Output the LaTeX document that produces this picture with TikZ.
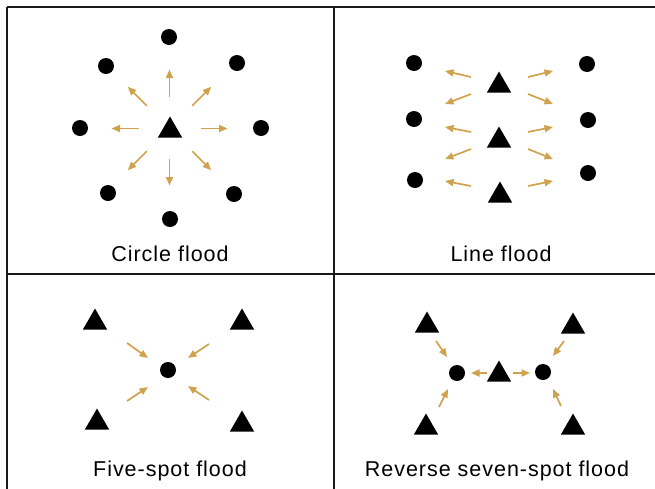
\documentclass[tikz,border=0pt]{standalone}
\usepackage{fontspec}
\setmainfont{Liberation Sans}
\newfontfamily\captionface[LetterSpace=4.5]{Liberation Sans}
\usetikzlibrary{arrows.meta,shapes.geometric}
\definecolor{flowgold}{HTML}{D0A24E}
\begin{document}
\begin{tikzpicture}[x=1pt,y=-1pt,
  frame/.style={line width=2pt,black!90},
  producer/.style={circle,fill=black,minimum size=16pt,inner sep=0pt},
  injector/.style={regular polygon,regular polygon sides=3,fill=black,minimum size=28pt,inner sep=0pt},
  flow/.style={flowgold,line width=1.7pt,-{Triangle[length=8.5pt,width=7pt]}},
  caption/.style={font=\captionface\fontsize{21.5}{26}\selectfont,anchor=base}]
\useasboundingbox (0,0) rectangle (655,488);

% panel frame
\draw[frame] (7,7) -- (656,7);
\draw[frame] (7,7) -- (7,489);
\draw[frame] (334,7) -- (334,489);
\draw[frame] (7,274) -- (656,274);

% ---- circle flood ----
\node[injector] (ci) at (170,130.5) {};
\node[producer] (cp1) at (169,37) {};
\node[producer] (cp2) at (106,66) {};
\node[producer] (cp3) at (237,63) {};
\node[producer] (cp4) at (80,128) {};
\node[producer] (cp5) at (261,128) {};
\node[producer] (cp6) at (108,193) {};
\node[producer] (cp7) at (234,194) {};
\node[producer] (cp8) at (170,219) {};
\coordinate (cc) at (169.5,128.5);
\foreach \a/\r in {0/31,45/32,90/30,135/32,180/31,225/32,270/32,315/32}
  \draw[flow] (cc) ++(\a:\r) -- ++(\a:27);
\node[caption] (ccap) at (170,261) {Circle flood};

% ---- line flood ----
\node[injector] (li1) at (499,85.5) {};
\node[injector] (li2) at (499,140.5) {};
\node[injector] (li3) at (500,195.5) {};
\node[producer] (lp1) at (414,63) {};
\node[producer] (lp2) at (414,119) {};
\node[producer] (lp3) at (415,180) {};
\node[producer] (lr1) at (587,64) {};
\node[producer] (lr2) at (588,120) {};
\node[producer] (lr3) at (588,173) {};
\foreach \ya/\yb in {77/71,94/104,132/127,149/159,186/181}{
  \draw[flow] (471,\ya) -- (445,\yb);
  \draw[flow] (528,\ya) -- (553,\yb);
}
\node[caption] (lcap) at (501,261) {Line flood};

% ---- five-spot flood ----
\node[injector] (fi1) at (95,322.5) {};
\node[injector] (fi2) at (242,322.5) {};
\node[injector] (fi3) at (97,422.5) {};
\node[injector] (fi4) at (242,424.5) {};
\node[producer] (fp) at (168,370) {};
\draw[flow] (127,343) -- (148,358);
\draw[flow] (209,344) -- (188,358);
\draw[flow] (127,401) -- (148,387);
\draw[flow] (209,400) -- (188,386);
\node[caption] (fcap) at (170,476) {Five-spot flood};

% ---- reverse seven-spot flood ----
\node[injector] (ri1) at (427,325.5) {};
\node[injector] (ri2) at (573,326.5) {};
\node[injector] (ri3) at (499,374.5) {};
\node[injector] (ri4) at (426,427.5) {};
\node[injector] (ri5) at (573,427.5) {};
\node[producer] (rp1) at (457,373) {};
\node[producer] (rp2) at (543,372) {};
\draw[flow] (436,341) -- (447,357);
\draw[flow] (564,341) -- (553,356);
\draw[flow] (439,407) -- (448,389);
\draw[flow] (561,406) -- (553,389);
\draw[flow] (487,373) -- (471,373);
\draw[flow] (513,373) -- (530,373);
\node[caption] (rcap) at (497,476) {Reverse seven-spot flood};
\end{tikzpicture}
\end{document}
